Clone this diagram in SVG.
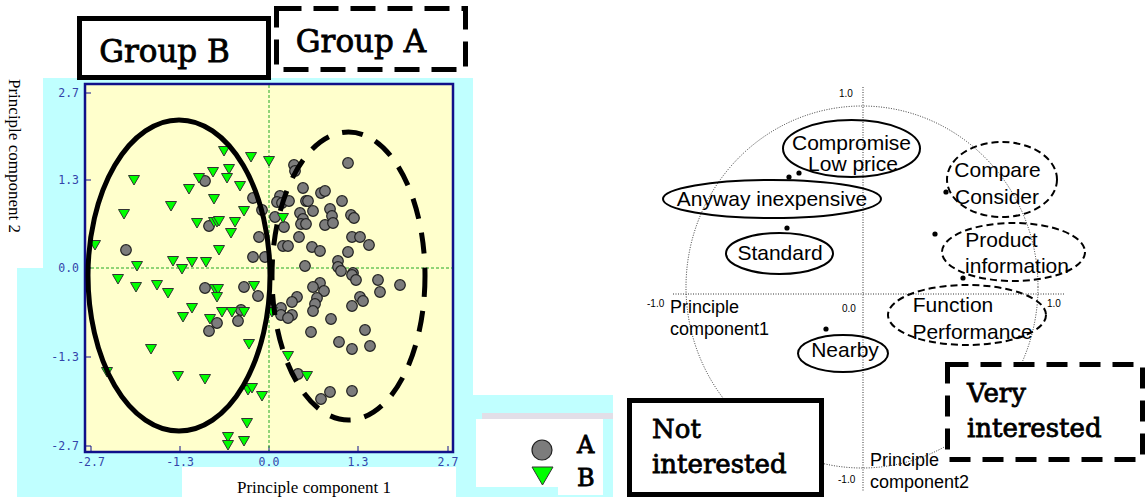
<svg xmlns="http://www.w3.org/2000/svg" xmlns:xlink="http://www.w3.org/1999/xlink" width="1147" height="497" viewBox="0 0 1147 497">
<style>
.tick{font-family:"DejaVu Sans Mono",monospace;font-size:11.5px;fill:#3344aa}
.ser{font-family:"DejaVu Serif","Liberation Serif",serif;fill:#000}
.big{font-family:"DejaVu Serif","Liberation Serif",serif;fill:#000;stroke:#000;stroke-width:0.8}
.axt{font-family:"Liberation Serif",serif;font-size:17px;fill:#000}
.lbl{font-family:"Liberation Sans",Arial,sans-serif;font-size:21px;fill:#000;text-anchor:middle}
.pc{font-family:"Liberation Sans",Arial,sans-serif;font-size:18px;fill:#000}
.sm{font-family:"Liberation Sans",Arial,sans-serif;font-size:10px;fill:#000}
.pt{fill:#7c7c7c;stroke:#222;stroke-width:1.2}
.tr{fill:#00ff00;stroke:#333;stroke-width:1}
.solid{fill:none;stroke:#000;stroke-width:2}
.dash{fill:none;stroke:#000;stroke-width:2;stroke-dasharray:7 4}
.dot{fill:#000}
.dotted{fill:none;stroke:#000;stroke-width:0.8;stroke-dasharray:1 1.5}
</style>
<defs>
<circle id="c" r="5.3" class="pt"/>
<path id="t" d="M-5.5,-4.5 L5.5,-4.5 L0,5 Z" class="tr"/>
</defs>
<rect width="1147" height="497" fill="#fff"/>
<g id="left-chart">
<path d="M43,78 H473 V395 H613 V497 H17 V268 H43 Z" fill="#c0ffff"/>
<rect x="182" y="467" width="274" height="30" fill="#fff"/>
<rect x="482" y="413" width="131" height="6" fill="#e2dfe8"/>
<rect x="476" y="419" width="127" height="68" fill="#fff"/>
<rect x="558" y="487" width="45" height="8" fill="#fff"/>
<rect x="85" y="84" width="368" height="368" fill="#ffffcc" stroke="#10108a" stroke-width="2.5"/>
<g stroke="#10108a" stroke-width="1">
<path d="M85,93 H91 M85,180 H91 M85,268 H91 M85,357 H91 M85,446 H91"/>
<path d="M91,452 V446 M180,452 V446 M269,452 V446 M358,452 V446 M448,452 V446"/>
</g>
<path d="M269,85 V451 M86,268 H452" stroke="#22aa22" stroke-width="1" stroke-dasharray="3 2" fill="none"/>
<g class="tick" text-anchor="end">
<text x="79" y="97">2.7</text>
<text x="79" y="184">1.3</text>
<text x="79" y="272">0.0</text>
<text x="79" y="361">-1.3</text>
<text x="79" y="450">-2.7</text>
</g>
<g class="tick" text-anchor="middle">
<text x="91" y="466">-2.7</text>
<text x="180" y="466">-1.3</text>
<text x="269" y="466">0.0</text>
<text x="358" y="466">1.3</text>
<text x="448" y="466">2.7</text>
</g>
<text class="axt" x="237" y="493">Principle component 1</text>
<text class="axt" transform="translate(9,79) rotate(90)">Principle component 2</text>
<g id="points-A">
<use href="#c" x="205" y="181"/><use href="#c" x="253" y="198"/><use href="#c" x="262" y="210"/><use href="#c" x="209" y="226"/><use href="#c" x="259" y="237"/><use href="#c" x="126" y="250"/><use href="#c" x="253" y="257"/><use href="#c" x="265" y="257"/><use href="#c" x="205" y="288"/><use href="#c" x="244" y="287"/><use href="#c" x="258" y="296"/><use href="#c" x="241" y="310"/><use href="#c" x="217" y="323"/><use href="#c" x="209" y="331"/><use href="#c" x="238" y="321"/>
<use href="#c" x="294" y="165"/><use href="#c" x="295" y="171"/><use href="#c" x="348" y="163"/><use href="#c" x="303" y="188"/><use href="#c" x="321" y="193"/><use href="#c" x="325" y="191"/><use href="#c" x="280" y="196"/><use href="#c" x="277" y="202"/><use href="#c" x="282" y="203"/><use href="#c" x="289" y="201"/><use href="#c" x="306" y="201"/><use href="#c" x="308" y="201"/><use href="#c" x="342" y="201"/><use href="#c" x="300" y="213"/><use href="#c" x="313" y="211"/><use href="#c" x="330" y="209"/><use href="#c" x="332" y="216"/><use href="#c" x="303" y="219"/><use href="#c" x="301" y="224"/><use href="#c" x="306" y="224"/><use href="#c" x="325" y="225"/><use href="#c" x="333" y="223"/><use href="#c" x="351" y="215"/><use href="#c" x="354" y="218"/><use href="#c" x="284" y="227"/><use href="#c" x="275" y="217"/><use href="#c" x="299" y="237"/><use href="#c" x="352" y="237"/><use href="#c" x="360" y="237"/><use href="#c" x="369" y="245"/><use href="#c" x="283" y="246"/><use href="#c" x="288" y="246"/><use href="#c" x="312" y="247"/><use href="#c" x="320" y="251"/><use href="#c" x="348" y="252"/><use href="#c" x="305" y="266"/><use href="#c" x="338" y="261"/><use href="#c" x="338" y="267"/><use href="#c" x="341" y="271"/><use href="#c" x="353" y="273"/>
<use href="#c" x="352" y="275"/><use href="#c" x="356" y="280"/><use href="#c" x="378" y="280"/><use href="#c" x="400" y="285"/><use href="#c" x="320" y="283"/><use href="#c" x="313" y="287"/><use href="#c" x="324" y="291"/><use href="#c" x="380" y="292"/><use href="#c" x="297" y="297"/><use href="#c" x="292" y="302"/><use href="#c" x="317" y="298"/><use href="#c" x="315" y="304"/><use href="#c" x="360" y="297"/><use href="#c" x="363" y="301"/><use href="#c" x="352" y="306"/><use href="#c" x="313" y="311"/><use href="#c" x="281" y="308"/><use href="#c" x="281" y="315"/><use href="#c" x="292" y="315"/><use href="#c" x="288" y="318"/><use href="#c" x="331" y="319"/><use href="#c" x="365" y="330"/><use href="#c" x="311" y="332"/><use href="#c" x="339" y="342"/><use href="#c" x="352" y="349"/><use href="#c" x="370" y="346"/><use href="#c" x="298" y="374"/><use href="#c" x="330" y="392"/><use href="#c" x="321" y="399"/><use href="#c" x="352" y="391"/>
</g>
<g id="points-B">
<use href="#t" x="224" y="151"/><use href="#t" x="251" y="157"/><use href="#t" x="269" y="161"/><use href="#t" x="134" y="180"/><use href="#t" x="199" y="178"/><use href="#t" x="213" y="172"/><use href="#t" x="229" y="169"/><use href="#t" x="227" y="178"/><use href="#t" x="240" y="186"/><use href="#t" x="189" y="189"/><use href="#t" x="214" y="199"/><use href="#t" x="171" y="206"/><use href="#t" x="124" y="214"/><use href="#t" x="244" y="211"/><use href="#t" x="197" y="223"/><use href="#t" x="214" y="222"/><use href="#t" x="217" y="222"/><use href="#t" x="219" y="221"/><use href="#t" x="235" y="222"/><use href="#t" x="231" y="233"/><use href="#t" x="95" y="245"/><use href="#t" x="219" y="250"/><use href="#t" x="173" y="261"/><use href="#t" x="192" y="262"/><use href="#t" x="206" y="262"/><use href="#t" x="182" y="269"/><use href="#t" x="137" y="266"/><use href="#t" x="283" y="218"/>
<use href="#t" x="118" y="279"/><use href="#t" x="136" y="287"/><use href="#t" x="157" y="285"/><use href="#t" x="168" y="293"/><use href="#t" x="192" y="308"/><use href="#t" x="183" y="317"/><use href="#t" x="215" y="289"/><use href="#t" x="218" y="289"/><use href="#t" x="217" y="297"/><use href="#t" x="254" y="286"/><use href="#t" x="222" y="312"/><use href="#t" x="232" y="312"/><use href="#t" x="244" y="312"/><use href="#t" x="210" y="319"/><use href="#t" x="272" y="312"/><use href="#t" x="249" y="344"/><use href="#t" x="151" y="349"/><use href="#t" x="178" y="376"/><use href="#t" x="205" y="379"/><use href="#t" x="107" y="372"/><use href="#t" x="248" y="390"/><use href="#t" x="252" y="388"/><use href="#t" x="262" y="396"/><use href="#t" x="247" y="423"/><use href="#t" x="228" y="437"/><use href="#t" x="228" y="445"/><use href="#t" x="244" y="441"/><use href="#t" x="288" y="356"/><use href="#t" x="307" y="376"/>
</g>
<ellipse id="groupB-ellipse" cx="179" cy="275.5" rx="91" ry="155.5" fill="none" stroke="#000" stroke-width="5"/>
<ellipse id="groupA-ellipse" cx="348.5" cy="276" rx="76.5" ry="144" fill="none" stroke="#000" stroke-width="5" stroke-dasharray="21 14"/>
<g id="legend">
<circle cx="542" cy="450" r="10" class="pt"/>
<path d="M532,467 L553,467 L542.5,485 Z" class="tr"/>
<text class="big" x="577" y="453" font-size="24" stroke-width="0.4">A</text>
<text class="big" x="577" y="486" font-size="24" stroke-width="0.4">B</text>
</g>
</g>
<g id="groupB-box">
<rect x="79.5" y="18.5" width="189" height="59" fill="#fff" stroke="#000" stroke-width="5"/>
<text class="big" x="164.5" y="62" font-size="31" text-anchor="middle">Group B</text>
</g>
<g id="groupA-box">
<rect x="276.5" y="8.5" width="189" height="61" fill="#fff" stroke="#000" stroke-width="5" stroke-dasharray="25 12"/>
<text class="big" x="361" y="52" font-size="31" text-anchor="middle">Group A</text>
</g>
<g id="right-axes">
<ellipse cx="862" cy="287" rx="176" ry="181" class="dotted"/>
<path d="M863,87 V492 M673,294 H1064" class="dotted"/>
<text class="sm" x="839" y="97">1.0</text>
<text class="sm" x="647" y="307">-1.0</text>
<text class="sm" x="842" y="312">0.0</text>
<text class="sm" x="1047" y="307">1.0</text>
<text class="sm" x="838" y="483">-1.0</text>
<text class="pc" x="670" y="313">Principle</text>
<text class="pc" x="670" y="335">component1</text>
<text class="pc" x="870" y="466">Principle</text>
<text class="pc" x="870" y="488">component2</text>
</g>
<g id="connectors">
<circle cx="789" cy="177" r="2.6" class="dot"/>
<circle cx="799" cy="173" r="2.6" class="dot"/>
<circle cx="787" cy="228" r="2.6" class="dot"/>
<circle cx="946" cy="192" r="2.6" class="dot"/>
<circle cx="935" cy="234" r="2.6" class="dot"/>
<circle cx="963" cy="278" r="2.6" class="dot"/>
<circle cx="826" cy="329" r="2.6" class="dot"/>
</g>
<g id="n-compromise">
<ellipse cx="851.5" cy="148.5" rx="68.5" ry="28.5" class="solid"/>
<text class="lbl" x="851.5" y="150" font-size="20.5">Compromise</text>
<text class="lbl" x="853" y="171" font-size="20.5">Low price</text>
</g>
<g id="n-anyway">
<ellipse cx="772" cy="199" rx="109" ry="19" class="solid"/>
<text class="lbl" x="772" y="206">Anyway inexpensive</text>
</g>
<g id="n-standard">
<ellipse cx="779.5" cy="253.5" rx="53.5" ry="20.5" class="solid"/>
<text class="lbl" x="780" y="260">Standard</text>
</g>
<g id="n-compare">
<ellipse cx="1002" cy="179.5" rx="55" ry="37.5" class="dash"/>
<text class="lbl" x="997.5" y="177">Compare</text>
<text class="lbl" x="997" y="204">Consider</text>
</g>
<g id="n-product">
<ellipse cx="1013.5" cy="252" rx="71.5" ry="29" class="dash"/>
<text class="lbl" x="1001.5" y="247">Product</text>
<text class="lbl" x="1017" y="273">information</text>
</g>
<g id="n-function">
<ellipse cx="967" cy="315" rx="79" ry="30" class="dash"/>
<text class="lbl" x="953" y="312">Function</text>
<text class="lbl" x="972.5" y="339">Performance</text>
</g>
<g id="n-nearby">
<ellipse cx="843" cy="353.5" rx="45" ry="18.5" class="solid"/>
<text class="lbl" x="845" y="357">Nearby</text>
</g>
<g id="not-interested">
<rect x="629.5" y="400.5" width="192" height="94" fill="#fff" stroke="#000" stroke-width="5"/>
<text class="big" x="652" y="438" font-size="26">Not</text>
<text class="big" x="652" y="473" font-size="26">interested</text>
</g>
<g id="very-interested">
<rect x="947.5" y="364.5" width="195" height="95" fill="#fff" stroke="#000" stroke-width="5" stroke-dasharray="21 12"/>
<text class="big" x="967" y="402" font-size="26">Very</text>
<text class="big" x="967" y="437" font-size="26">interested</text>
</g>
</svg>
